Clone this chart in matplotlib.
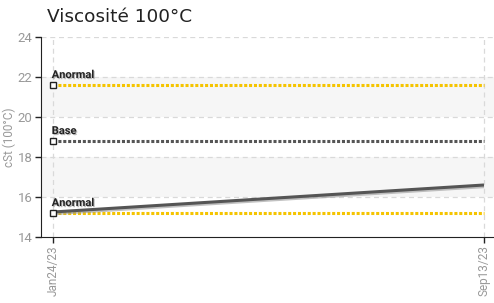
import matplotlib
matplotlib.use("Agg")
import matplotlib.pyplot as plt
import matplotlib.dates as mdates
import matplotlib.patheffects as pe
from datetime import datetime

# data
dates = [datetime(2023, 1, 24), datetime(2023, 9, 13)]
visc = [15.25, 16.6]
tick_labels = ["Jan24/23", "Sep13/23"]
ref_names = ["Anormal", "Base", "Anormal"]
ref_values = [21.6, 18.8, 15.2]
ref_colors = ["#f5c400", "#555555", "#f5c400"]

fig = plt.figure(figsize=(4.94, 3.03), dpi=100)
ax = fig.add_axes([41 / 494, 1 - 237 / 303, 456 / 494, 200 / 303])

x0 = mdates.date2num(dates[0]) - 6.5
x1 = mdates.date2num(dates[-1]) + 7.0
ax.set_xlim(x0, x1)
ax.set_ylim(14, 24)

# alternating bands
for lo in (16, 20):
    ax.axhspan(lo, lo + 2, color="#f6f6f6", zorder=0, lw=0)

for y in range(16, 25, 2):
    ax.axhline(y, color="#d9d9d9", lw=0.9, ls=(0, (4, 3)), zorder=1)
for d in dates:
    ax.axvline(mdates.date2num(d), color="#d9d9d9", lw=0.9, ls=(0, (4, 3)), zorder=1)

# reference lines
for name, val, col in zip(ref_names, ref_values, ref_colors):
    ax.plot([dates[0], dates[-1]], [val, val], color=col, lw=2.2, ls=(0, (1, 0.6)), zorder=3)
    ax.plot([dates[0]], [val], marker="s", ms=4.5, mfc="white", mec="#222222", mew=1.0, zorder=5)
    ax.annotate(name, (mdates.date2num(dates[0]), val), xytext=(-1, 5), textcoords="offset points",
                fontsize=8, fontweight="bold", color="#222222", family="Roboto",
                path_effects=[pe.withSimplePatchShadow(offset=(0.8, -0.8), shadow_rgbFace="#aaaaaa", alpha=0.8)],
                zorder=6)

# data line
ax.plot(dates, visc, color="#555555", lw=2.2, zorder=4, solid_capstyle="butt",
        path_effects=[pe.SimpleLineShadow(offset=(0, -1.2), shadow_color="#999999", alpha=0.6), pe.Normal()])

ax.set_xticks([mdates.date2num(d) for d in dates])
ax.set_xticklabels(tick_labels, rotation=90, color="#999999", fontsize=8.5, family="Roboto")
ax.set_yticks(range(14, 25, 2))
ax.set_yticklabels([str(v) for v in range(14, 25, 2)], color="#999999", fontsize=9.5, family="Roboto")
ax.tick_params(axis="both", direction="out", length=4, width=1, color="#222222", pad=2)
ax.set_ylabel("cSt (100°C)", color="#999999", fontsize=8.5, family="Roboto", labelpad=1)

for side in ("top", "right"):
    ax.spines[side].set_visible(False)
ax.spines["left"].set_color("#222222")
ax.spines["bottom"].set_color("#222222")

fig.text(47 / 494, 1 - 17 / 303, "Viscosité 100°C", fontsize=13.3, color="#222222",
         va="center", ha="left", family="DejaVu Sans")

fig.savefig("out.png", dpi=100)
